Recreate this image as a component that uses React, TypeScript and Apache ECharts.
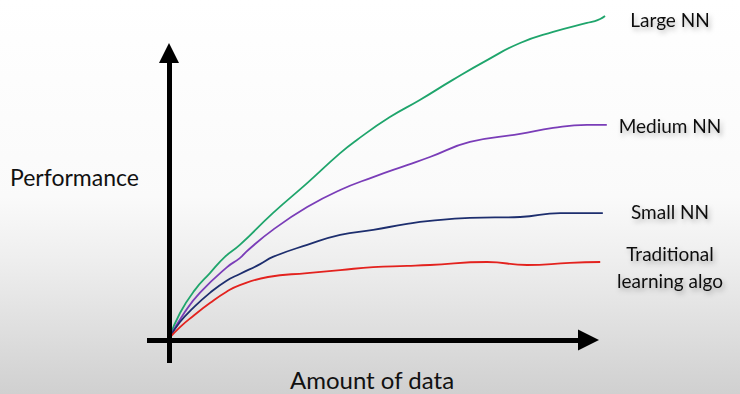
import React, { useEffect, useRef } from "react";
import * as echarts from "echarts";

// Amount of data (x) vs performance (y)
const largeNN: [number, number][] = [
  [0, 0.5], [2.5, 9.0], [5.9, 16.7], [9.3, 22.3], [12.7, 27.7], [16.1, 31.7],
  [23.6, 42.3], [31.4, 52.3], [38.9, 62.3], [42.7, 66.7], [50.2, 74.3],
  [57.0, 80.0], [64.5, 86.7], [72.3, 93.3], [79.8, 99.0], [87.3, 102.7],
  [95.0, 105.7], [96.8, 106.3], [98.0, 107.0], [99.1, 108.0],
];
const mediumNN: [number, number][] = [
  [0, 0.5], [3.6, 9.3], [7.0, 15.7], [13.2, 24.3], [16.1, 27.3], [18.0, 30.0],
  [23.6, 36.7], [31.4, 44.3], [38.9, 50.0], [46.4, 54.3], [54.1, 58.3],
  [59.3, 61.0], [68.4, 66.0], [79.8, 68.7], [87.3, 70.7], [95.0, 71.7],
  [99.5, 71.7],
];
const smallNN: [number, number][] = [
  [0, 0.5], [2.5, 6.0], [5.5, 10.7], [9.3, 15.7], [13.0, 19.7], [16.1, 22.0],
  [20.7, 25.3], [23.6, 27.7], [31.4, 31.7], [38.9, 35.0], [46.4, 36.7],
  [54.1, 38.7], [59.3, 39.7], [68.4, 40.7], [79.8, 41.0], [88.9, 42.3],
  [98.6, 42.3],
];
const traditional: [number, number][] = [
  [0, 0.5], [2.5, 4.3], [5.5, 8.0], [9.3, 12.3], [13.0, 16.0], [16.1, 18.3],
  [22.5, 21.0], [31.4, 22.3], [38.9, 23.3], [46.4, 24.3], [54.1, 24.7],
  [59.3, 25.0], [72.3, 26.0], [81.4, 25.0], [91.1, 25.7], [98.0, 26.0],
];

const seriesNames = ["Large NN", "Medium NN", "Small NN", "Traditional learning algo"];
const seriesColors = ["#1fa56c", "#7a3db8", "#1d2e6e", "#e3221e"];
const seriesData = [largeNN, mediumNN, smallNN, traditional];

// Drawn axes (with arrow heads): start and end in data units
const xAxisArrow: [number, number][] = [[-5, 0], [95.34, 0]];
const yAxisArrow: [number, number][] = [[0, -7.67], [0, 95.67]];

const xTitle = "Amount of data";
const yTitle = "Performance";
const curveLabels = ["Large NN", "Medium NN", "Small NN", "Traditional\nlearning algo"];

export default function App() {
  const ref = useRef<HTMLDivElement>(null);

  useEffect(() => {
    if (!ref.current) return;
    const chart = echarts.init(ref.current, null, { renderer: "svg" });
    const font = "Lato, 'Open Sans', sans-serif";
    const labelShadow = {
      textShadowColor: "rgba(0,0,0,0.28)",
      textShadowBlur: 5,
      textShadowOffsetX: 2,
      textShadowOffsetY: 3,
    };
    const labelY = [19, 125, 211, 267];
    const hiddenAxis = {
      type: "value",
      axisLine: { show: false },
      axisTick: { show: false },
      axisLabel: { show: false },
      splitLine: { show: false },
    };
    chart.setOption({
      animation: false,
      backgroundColor: {
        type: "linear",
        x: 0, y: 0, x2: 0, y2: 1,
        colorStops: [
          { offset: 0, color: "#ffffff" },
          { offset: 0.5, color: "#fafafa" },
          { offset: 0.65, color: "#efefef" },
          { offset: 0.8, color: "#e2e2e2" },
          { offset: 1, color: "#d0d0d0" },
        ],
      },
      grid: { left: 147, right: 131, top: 10, bottom: 31 },
      xAxis: { ...hiddenAxis, min: -5, max: 100 },
      yAxis: { ...hiddenAxis, min: -7.67, max: 110 },
      series: [
        ...seriesData.map((d, i) => ({
          name: seriesNames[i],
          type: "line",
          data: d,
          showSymbol: false,
          smooth: 0.5,
          clip: false,
          z: 2,
          lineStyle: { color: seriesColors[i], width: 1.8 },
        })),
        {
          name: "axes",
          type: "line",
          data: [],
          z: 1,
          markLine: {
            silent: true,
            animation: false,
            symbol: ["none", "triangle"],
            symbolSize: [21, 21],
            label: { show: false },
            lineStyle: { color: "#000", width: 5, type: "solid" },
            emphasis: { disabled: true },
            data: [
              [{ coord: xAxisArrow[0] }, { coord: xAxisArrow[1] }],
              [{ coord: yAxisArrow[0] }, { coord: yAxisArrow[1], symbolSize: [20, 20] }],
            ],
          },
        },
      ],
      graphic: [
        {
          type: "text",
          left: 10,
          top: 165,
          style: { text: yTitle, font: `23px ${font}`, fill: "#111" },
        },
        {
          type: "text",
          x: 372,
          y: 379,
          style: {
            text: xTitle,
            font: `24px ${font}`,
            fill: "#111",
            textAlign: "center",
            textVerticalAlign: "middle",
          },
        },
        ...curveLabels.map((t, i) => ({
          type: "text",
          x: 670,
          y: labelY[i],
          style: {
            text: t,
            font: `19px ${font}`,
            lineHeight: 27,
            fill: "#111",
            textAlign: "center",
            textVerticalAlign: "middle",
            ...labelShadow,
          },
        })),
      ],
    });
    return () => chart.dispose();
  }, []);

  return (
    <div
      ref={ref}
      style={{ position: "fixed", left: 0, top: 0, width: 740, height: 394 }}
    />
  );
}
